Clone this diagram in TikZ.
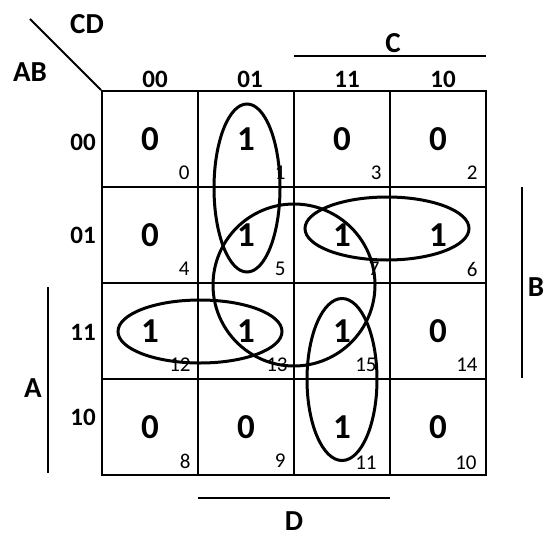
\documentclass[tikz,border=0pt]{standalone}
\usepackage{fontspec}
\setmainfont{Carlito}
\usetikzlibrary{shapes.geometric}

\begin{document}
\begin{tikzpicture}[
    x=0.5pt, y=-0.5pt,
    cell/.style={rectangle, draw, line width=1pt, minimum size=48pt, inner sep=0pt,
                 font=\fontsize{17.5}{20}\selectfont\bfseries},
    idx/.style={anchor=east, inner sep=0pt, font=\fontsize{10.5}{12}\selectfont},
    code/.style={inner sep=0pt, font=\fontsize{12.5}{14}\selectfont\bfseries},
    var/.style={inner sep=0pt, font=\fontsize{14.5}{16}\selectfont\bfseries},
    group/.style={ellipse, draw, line width=1.5pt, inner sep=0pt},
    bar/.style={line width=1pt},
]
    \useasboundingbox (0,0) rectangle (545,535);

    % Row AB=00
    \node[cell] (c0) at (150,139) {0};
    \node[cell] (c1) at (246,139) {1};
    \node[cell] (c3) at (342,139) {0};
    \node[cell] (c2) at (438,139) {0};

    % Row AB=01
    \node[cell] (c4) at (150,235) {0};
    \node[cell] (c5) at (246,235) {1};
    \node[cell] (c7) at (342,235) {1};
    \node[cell] (c6) at (438,235) {1};

    % Row AB=11
    \node[cell] (c12) at (150,331) {1};
    \node[cell] (c13) at (246,331) {1};
    \node[cell] (c15) at (342,331) {1};
    \node[cell] (c14) at (438,331) {0};

    % Row AB=10
    \node[cell] (c8) at (150,427) {0};
    \node[cell] (c9) at (246,427) {0};
    \node[cell] (c11) at (342,427) {1};
    \node[cell] (c10) at (438,427) {0};

    % Minterm numbers
    \node[idx] (m0) at (190,173) {0};
    \node[idx] (m1) at (286,173) {1};
    \node[idx] (m3) at (382,173) {3};
    \node[idx] (m2) at (478,173) {2};
    \node[idx] (m4) at (190,269) {4};
    \node[idx] (m5) at (286,269) {5};
    \node[idx] (m7) at (380,269) {7};
    \node[idx] (m6) at (478,269) {6};
    \node[idx] (m12) at (191,365) {12};
    \node[idx] (m13) at (288,365) {13};
    \node[idx] (m15) at (377,365) {15};
    \node[idx] (m14) at (478,365) {14};
    \node[idx] (m8) at (191,461) {8};
    \node[idx] (m9) at (286,461) {9};
    \node[idx] (m11) at (377,463) {11};
    \node[idx] (m10) at (477,463) {10};

    % Column and row codes
    \node[code] (cd00) at (155,79) {00};
    \node[code] (cd01) at (250,79) {01};
    \node[code] (cd11) at (347,79) {11};
    \node[code] (cd10) at (443,79) {10};
    \node[code] (ab00) at (83,142) {00};
    \node[code] (ab01) at (83,235) {01};
    \node[code] (ab11) at (83,332) {11};
    \node[code] (ab10) at (83,417) {10};

    % Corner
    \node[var] (cd) at (87,24) {CD};
    \node[var] (ab) at (30,72) {AB};
    \coordinate (diag) at (30,19);
    \draw[bar] (diag) -- (c0.north west);

    % Variable bars
    \node[var] (C) at (393,43) {C};
    \coordinate (cL) at (294,56);
    \coordinate (cR) at (486,56);
    \draw[bar] (cL) -- (cR);

    \node[var] (B) at (536,287) {B};
    \coordinate (bT) at (522,187);
    \coordinate (bB) at (522,378);
    \draw[bar] (bT) -- (bB);

    \node[var] (A) at (33,388) {A};
    \coordinate (aT) at (48,287);
    \coordinate (aB) at (48,473);
    \draw[bar] (aT) -- (aB);

    \node[var] (D) at (294,521) {D};
    \coordinate (dL) at (198,498);
    \coordinate (dR) at (390,498);
    \draw[bar] (dL) -- (dR);

    % Groups
    \node[group, minimum width=33pt, minimum height=84pt] (g1) at (247,188) {};
    \node[group, minimum width=82pt, minimum height=31.5pt] (g2) at (387,228.5) {};
    \node[group, minimum width=81pt, minimum height=81pt] (g3) at (294,285) {};
    \node[group, minimum width=82pt, minimum height=31.5pt] (g4) at (200,331.5) {};
    \node[group, minimum width=35pt, minimum height=81pt] (g5) at (342,379.5) {};
\end{tikzpicture}
\end{document}
